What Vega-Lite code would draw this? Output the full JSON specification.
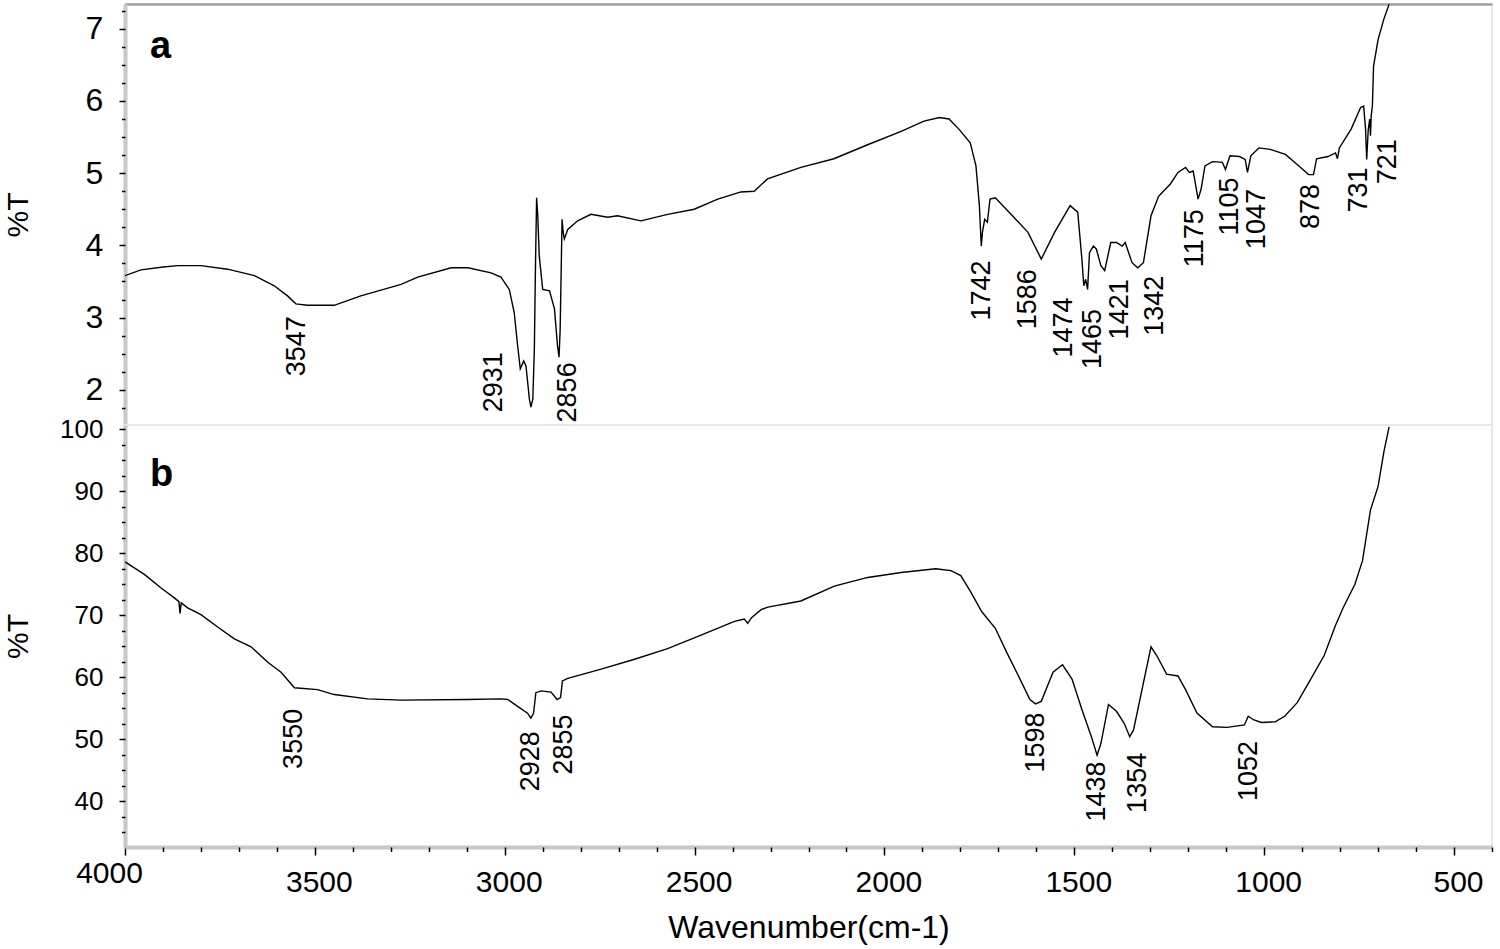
{
  "$schema": "https://vega.github.io/schema/vega-lite/v6.json",
  "padding": {"left": 2, "top": 3, "right": 5, "bottom": 2},
  "background": "white",
  "spacing": 0,
  "bounds": "flush",
  "config": {
    "font": "Liberation Sans",
    "view": {"stroke": "#e8e8e8", "strokeWidth": 2},
    "axis": {"labelColor": "black", "titleColor": "black", "labelFont": "Liberation Sans", "titleFont": "Liberation Sans", "grid": false, "tickColor": "black", "tickWidth": 1.5, "titleFontWeight": "normal", "format": "d", "labelFlush": false}
  },
  "datasets": {
    "a": [
      {"wn": 4000, "T": 3.58}, {"wn": 3958, "T": 3.66}, {"wn": 3900, "T": 3.70}, {"wn": 3861, "T": 3.72}, {"wn": 3800, "T": 3.72},
      {"wn": 3730, "T": 3.67}, {"wn": 3659, "T": 3.58}, {"wn": 3607, "T": 3.44}, {"wn": 3572, "T": 3.30}, {"wn": 3550, "T": 3.19},
      {"wn": 3520, "T": 3.17}, {"wn": 3493, "T": 3.17}, {"wn": 3449, "T": 3.17}, {"wn": 3379, "T": 3.30}, {"wn": 3273, "T": 3.46},
      {"wn": 3229, "T": 3.56}, {"wn": 3141, "T": 3.69}, {"wn": 3097, "T": 3.69}, {"wn": 3036, "T": 3.62}, {"wn": 3010, "T": 3.56},
      {"wn": 2988, "T": 3.39}, {"wn": 2975, "T": 3.07}, {"wn": 2966, "T": 2.61}, {"wn": 2959, "T": 2.29}, {"wn": 2950, "T": 2.40},
      {"wn": 2944, "T": 2.33}, {"wn": 2935, "T": 1.87}, {"wn": 2931, "T": 1.76}, {"wn": 2926, "T": 1.87}, {"wn": 2922, "T": 2.56},
      {"wn": 2919, "T": 3.72}, {"wn": 2916, "T": 4.66}, {"wn": 2913, "T": 4.41}, {"wn": 2909, "T": 3.85}, {"wn": 2900, "T": 3.39},
      {"wn": 2882, "T": 3.37}, {"wn": 2869, "T": 3.12}, {"wn": 2861, "T": 2.61}, {"wn": 2857, "T": 2.45}, {"wn": 2854, "T": 2.84},
      {"wn": 2849, "T": 4.36}, {"wn": 2846, "T": 4.18}, {"wn": 2843, "T": 4.09}, {"wn": 2834, "T": 4.22}, {"wn": 2808, "T": 4.34},
      {"wn": 2773, "T": 4.43}, {"wn": 2729, "T": 4.39}, {"wn": 2703, "T": 4.41}, {"wn": 2641, "T": 4.34}, {"wn": 2571, "T": 4.43},
      {"wn": 2501, "T": 4.50}, {"wn": 2439, "T": 4.64}, {"wn": 2378, "T": 4.74}, {"wn": 2343, "T": 4.75}, {"wn": 2308, "T": 4.92},
      {"wn": 2220, "T": 5.08}, {"wn": 2133, "T": 5.20}, {"wn": 2046, "T": 5.39}, {"wn": 1956, "T": 5.58}, {"wn": 1896, "T": 5.72},
      {"wn": 1855, "T": 5.77}, {"wn": 1830, "T": 5.75}, {"wn": 1804, "T": 5.61}, {"wn": 1774, "T": 5.42}, {"wn": 1759, "T": 5.10},
      {"wn": 1750, "T": 4.55}, {"wn": 1745, "T": 3.99}, {"wn": 1742, "T": 4.18}, {"wn": 1736, "T": 4.36}, {"wn": 1729, "T": 4.32},
      {"wn": 1722, "T": 4.64}, {"wn": 1708, "T": 4.66}, {"wn": 1663, "T": 4.41}, {"wn": 1622, "T": 4.18}, {"wn": 1587, "T": 3.81},
      {"wn": 1552, "T": 4.18}, {"wn": 1511, "T": 4.55}, {"wn": 1491, "T": 4.46}, {"wn": 1480, "T": 3.81}, {"wn": 1475, "T": 3.44},
      {"wn": 1470, "T": 3.53}, {"wn": 1465, "T": 3.39}, {"wn": 1460, "T": 3.90}, {"wn": 1450, "T": 3.99}, {"wn": 1442, "T": 3.95},
      {"wn": 1430, "T": 3.72}, {"wn": 1420, "T": 3.65}, {"wn": 1404, "T": 4.04}, {"wn": 1389, "T": 4.04}, {"wn": 1374, "T": 3.99},
      {"wn": 1366, "T": 4.04}, {"wn": 1348, "T": 3.76}, {"wn": 1333, "T": 3.69}, {"wn": 1318, "T": 3.76}, {"wn": 1298, "T": 4.41},
      {"wn": 1278, "T": 4.68}, {"wn": 1247, "T": 4.85}, {"wn": 1227, "T": 5.01}, {"wn": 1207, "T": 5.08}, {"wn": 1197, "T": 5.01},
      {"wn": 1187, "T": 5.03}, {"wn": 1174, "T": 4.64}, {"wn": 1166, "T": 4.78}, {"wn": 1156, "T": 5.10}, {"wn": 1136, "T": 5.16},
      {"wn": 1110, "T": 5.15}, {"wn": 1102, "T": 5.05}, {"wn": 1090, "T": 5.24}, {"wn": 1065, "T": 5.23}, {"wn": 1050, "T": 5.19},
      {"wn": 1044, "T": 5.01}, {"wn": 1035, "T": 5.24}, {"wn": 1014, "T": 5.35}, {"wn": 984, "T": 5.33}, {"wn": 944, "T": 5.26},
      {"wn": 913, "T": 5.12}, {"wn": 883, "T": 4.98}, {"wn": 870, "T": 4.98}, {"wn": 862, "T": 5.20}, {"wn": 832, "T": 5.23},
      {"wn": 812, "T": 5.28}, {"wn": 807, "T": 5.20}, {"wn": 802, "T": 5.35}, {"wn": 771, "T": 5.61}, {"wn": 746, "T": 5.91},
      {"wn": 738, "T": 5.93}, {"wn": 733, "T": 5.61}, {"wn": 730, "T": 5.19}, {"wn": 726, "T": 5.60}, {"wn": 722, "T": 5.75},
      {"wn": 720, "T": 5.52}, {"wn": 718, "T": 5.80}, {"wn": 715, "T": 5.93}, {"wn": 712, "T": 6.48}, {"wn": 700, "T": 6.85},
      {"wn": 685, "T": 7.13}, {"wn": 671, "T": 7.34}
    ],
    "b": [
      {"wn": 4000, "T": 78.6}, {"wn": 3949, "T": 76.6}, {"wn": 3905, "T": 74.4}, {"wn": 3870, "T": 72.8}, {"wn": 3858, "T": 72.2},
      {"wn": 3855, "T": 70.3}, {"wn": 3852, "T": 72.0}, {"wn": 3835, "T": 71.2}, {"wn": 3800, "T": 70.1}, {"wn": 3756, "T": 68.1},
      {"wn": 3712, "T": 66.2}, {"wn": 3668, "T": 64.9}, {"wn": 3624, "T": 62.4}, {"wn": 3589, "T": 60.8}, {"wn": 3554, "T": 58.3},
      {"wn": 3493, "T": 58.0}, {"wn": 3449, "T": 57.2}, {"wn": 3361, "T": 56.5}, {"wn": 3273, "T": 56.3}, {"wn": 3100, "T": 56.4},
      {"wn": 3010, "T": 56.5}, {"wn": 2992, "T": 56.4}, {"wn": 2966, "T": 55.3}, {"wn": 2940, "T": 54.2}, {"wn": 2931, "T": 53.4},
      {"wn": 2924, "T": 54.2}, {"wn": 2918, "T": 57.5}, {"wn": 2904, "T": 57.8}, {"wn": 2878, "T": 57.6}, {"wn": 2862, "T": 56.4},
      {"wn": 2853, "T": 56.7}, {"wn": 2848, "T": 59.4}, {"wn": 2834, "T": 59.8}, {"wn": 2746, "T": 61.3}, {"wn": 2658, "T": 62.9},
      {"wn": 2571, "T": 64.6}, {"wn": 2483, "T": 66.8}, {"wn": 2395, "T": 69.0}, {"wn": 2369, "T": 69.4}, {"wn": 2360, "T": 68.7},
      {"wn": 2350, "T": 69.6}, {"wn": 2325, "T": 70.9}, {"wn": 2307, "T": 71.3}, {"wn": 2220, "T": 72.3}, {"wn": 2132, "T": 74.7},
      {"wn": 2044, "T": 76.1}, {"wn": 1956, "T": 76.9}, {"wn": 1865, "T": 77.5}, {"wn": 1825, "T": 77.2}, {"wn": 1799, "T": 76.4},
      {"wn": 1774, "T": 73.9}, {"wn": 1744, "T": 70.6}, {"wn": 1708, "T": 67.9}, {"wn": 1678, "T": 64.0}, {"wn": 1643, "T": 59.7},
      {"wn": 1617, "T": 56.4}, {"wn": 1602, "T": 55.7}, {"wn": 1587, "T": 56.1}, {"wn": 1556, "T": 60.8}, {"wn": 1531, "T": 62.0},
      {"wn": 1506, "T": 59.7}, {"wn": 1480, "T": 54.8}, {"wn": 1455, "T": 50.4}, {"wn": 1440, "T": 47.4}, {"wn": 1430, "T": 49.3},
      {"wn": 1410, "T": 55.6}, {"wn": 1389, "T": 54.5}, {"wn": 1369, "T": 52.6}, {"wn": 1354, "T": 50.4}, {"wn": 1344, "T": 51.5},
      {"wn": 1318, "T": 59.1}, {"wn": 1298, "T": 64.9}, {"wn": 1283, "T": 63.5}, {"wn": 1257, "T": 60.5}, {"wn": 1227, "T": 60.2},
      {"wn": 1207, "T": 58.0}, {"wn": 1177, "T": 54.2}, {"wn": 1136, "T": 52.0}, {"wn": 1098, "T": 51.9}, {"wn": 1052, "T": 52.3},
      {"wn": 1042, "T": 53.7}, {"wn": 1027, "T": 53.1}, {"wn": 1007, "T": 52.7}, {"wn": 971, "T": 52.8}, {"wn": 946, "T": 53.7},
      {"wn": 913, "T": 55.9}, {"wn": 883, "T": 59.1}, {"wn": 842, "T": 63.5}, {"wn": 812, "T": 68.4}, {"wn": 792, "T": 71.2},
      {"wn": 761, "T": 75.0}, {"wn": 741, "T": 78.8}, {"wn": 720, "T": 87.0}, {"wn": 700, "T": 90.8}, {"wn": 685, "T": 96.3},
      {"wn": 671, "T": 100.4}
    ],
    "peaks": [
      {"panel": "a", "label": "3547", "lx": 3547, "ly": 3.02},
      {"panel": "a", "label": "2931", "lx": 3028, "ly": 2.52},
      {"panel": "a", "label": "2856", "lx": 2833, "ly": 2.38},
      {"panel": "a", "label": "1742", "lx": 1742, "ly": 3.79},
      {"panel": "a", "label": "1586", "lx": 1622, "ly": 3.67},
      {"panel": "a", "label": "1474", "lx": 1526, "ly": 3.28},
      {"panel": "a", "label": "1465", "lx": 1450, "ly": 3.12},
      {"panel": "a", "label": "1421", "lx": 1379, "ly": 3.53},
      {"panel": "a", "label": "1342", "lx": 1288, "ly": 3.58},
      {"panel": "a", "label": "1175", "lx": 1181, "ly": 4.50},
      {"panel": "a", "label": "1105", "lx": 1091, "ly": 4.94},
      {"panel": "a", "label": "1047", "lx": 1020, "ly": 4.78},
      {"panel": "a", "label": "878", "lx": 877, "ly": 4.85},
      {"panel": "a", "label": "731", "lx": 750, "ly": 5.08},
      {"panel": "a", "label": "721", "lx": 674, "ly": 5.47},
      {"panel": "b", "label": "3550", "lx": 3554, "ly": 54.9},
      {"panel": "b", "label": "2928", "lx": 2931, "ly": 51.3},
      {"panel": "b", "label": "2855", "lx": 2845, "ly": 54.0},
      {"panel": "b", "label": "1598", "lx": 1602, "ly": 54.3},
      {"panel": "b", "label": "1438", "lx": 1440, "ly": 46.4},
      {"panel": "b", "label": "1354", "lx": 1333, "ly": 47.8},
      {"panel": "b", "label": "1052", "lx": 1040, "ly": 49.7}
    ],
    "letters": [
      {"panel": "a", "label": "a", "x": 3934, "y": 6.60},
      {"panel": "b", "label": "b", "x": 3934, "y": 90.8}
    ]
  },
  "vconcat": [
    {
      "width": 1367,
      "height": 421,
      "resolve": {"axis": {"x": "independent", "y": "independent"}},
      "layer": [
        {
          "data": {"name": "letters"},
          "transform": [{"filter": "datum.panel == 'a'"}],
          "mark": {"type": "text", "fontSize": 38, "fontWeight": "bold", "align": "left", "baseline": "alphabetic", "color": "black"},
          "encoding": {
            "x": {"field": "x", "type": "quantitative", "scale": {"domain": [4000, 400], "nice": false, "zero": false},
                  "axis": {"orient": "top", "title": null, "labels": false, "ticks": false, "domain": true, "domainColor": "#a3a3a3", "domainWidth": 2.5, "zindex": 0}},
            "y": {"field": "y", "type": "quantitative", "scale": {"domain": [1.512, 7.343], "nice": false, "zero": false},
                  "axis": {"orient": "left", "title": null, "labels": false, "ticks": false, "domain": true, "domainColor": "#c8c8c8", "domainWidth": 4, "zindex": 0}},
            "text": {"field": "label"}
          }
        },
        {
          "data": {"name": "a"},
          "mark": {"type": "line", "color": "black", "strokeWidth": 1.4, "clip": true},
          "encoding": {
            "x": {"field": "wn", "type": "quantitative", "scale": {"domain": [4000, 400], "nice": false, "zero": false}, "axis": null},
            "y": {"field": "T", "type": "quantitative", "scale": {"domain": [1.512, 7.343], "nice": false, "zero": false},
                  "axis": {"orient": "left", "title": "%T", "values": [2, 3, 4, 5, 6, 7], "tickSize": 6, "labelFontSize": 32, "labelAlign": "left", "labelPadding": 34, "domain": false, "minExtent": 60, "maxExtent": 60, "titleFontSize": 30, "titlePadding": 32, "zindex": 1}}
          }
        },
        {
          "data": {"name": "peaks"},
          "transform": [{"filter": "datum.panel == 'a'"}],
          "mark": {"type": "text", "angle": 270, "align": "right", "baseline": "middle", "fontSize": 27, "font": "Liberation Sans", "color": "black"},
          "encoding": {
            "x": {"field": "lx", "type": "quantitative", "scale": {"domain": [4000, 400], "nice": false, "zero": false}, "axis": null},
            "y": {"field": "ly", "type": "quantitative", "scale": {"domain": [1.512, 7.343], "nice": false, "zero": false},
                  "axis": {"orient": "left", "title": null, "labels": false, "domain": false, "values": [1.75, 2.25, 2.5, 2.75, 3.25, 3.5, 3.75, 4.25, 4.5, 4.75, 5.25, 5.5, 5.75, 6.25, 6.5, 6.75, 7.25], "tickSize": 3.5, "zindex": 1}},
            "text": {"field": "label"}
          }
        }
      ]
    },
    {
      "width": 1367,
      "height": 422,
      "resolve": {"axis": {"x": "independent", "y": "independent"}},
      "layer": [
        {
          "data": {"name": "letters"},
          "transform": [{"filter": "datum.panel == 'b'"}],
          "mark": {"type": "text", "fontSize": 38, "fontWeight": "bold", "align": "left", "baseline": "alphabetic", "color": "black"},
          "encoding": {
            "x": {"field": "x", "type": "quantitative", "scale": {"domain": [4000, 400], "nice": false, "zero": false},
                  "axis": {"orient": "bottom", "title": null, "values": [4000], "tickSize": 8, "labelFontSize": 30, "labelPadding": 3, "labelOffset": -16, "labelFlush": false, "domain": true, "domainColor": "#c8c8c8", "domainWidth": 4, "minExtent": 40, "maxExtent": 40, "zindex": 0}},
            "y": {"field": "y", "type": "quantitative", "scale": {"domain": [32.6, 100.7], "nice": false, "zero": false},
                  "axis": {"orient": "left", "title": null, "labels": false, "ticks": false, "domain": true, "domainColor": "#c8c8c8", "domainWidth": 4, "zindex": 0}},
            "text": {"field": "label"}
          }
        },
        {
          "data": {"name": "b"},
          "mark": {"type": "line", "color": "black", "strokeWidth": 1.4, "clip": true},
          "encoding": {
            "x": {"field": "wn", "type": "quantitative", "scale": {"domain": [4000, 400], "nice": false, "zero": false},
                  "axis": {"orient": "bottom", "title": "Wavenumber(cm-1)", "values": [3500, 3000, 2500, 2000, 1500, 1000, 500], "tickSize": 8, "labelFontSize": 30, "labelPadding": 12, "labelOffset": 4, "domain": false, "minExtent": 40, "maxExtent": 40, "titleFontSize": 32, "titlePadding": 25, "zindex": 1}},
            "y": {"field": "T", "type": "quantitative", "scale": {"domain": [32.6, 100.7], "nice": false, "zero": false},
                  "axis": {"orient": "left", "title": "%T", "values": [40, 50, 60, 70, 80, 90, 100], "tickSize": 6, "labelFontSize": 26, "labelPadding": 16, "domain": false, "minExtent": 60, "maxExtent": 60, "titleFontSize": 30, "titlePadding": 32, "zindex": 1}}
          }
        },
        {
          "data": {"name": "peaks"},
          "transform": [{"filter": "datum.panel == 'b'"}],
          "mark": {"type": "text", "angle": 270, "align": "right", "baseline": "middle", "fontSize": 27, "font": "Liberation Sans", "color": "black"},
          "encoding": {
            "x": {"field": "lx", "type": "quantitative", "scale": {"domain": [4000, 400], "nice": false, "zero": false},
                  "axis": {"orient": "bottom", "title": null, "labels": false, "domain": false, "values": [400, 600, 700, 800, 900, 1100, 1200, 1300, 1400, 1600, 1700, 1800, 1900, 2100, 2200, 2300, 2400, 2600, 2700, 2800, 2900, 3100, 3200, 3300, 3400, 3600, 3700, 3800, 3900], "tickSize": 4.5, "zindex": 1}},
            "y": {"field": "ly", "type": "quantitative", "scale": {"domain": [32.6, 100.7], "nice": false, "zero": false},
                  "axis": {"orient": "left", "title": null, "labels": false, "domain": false, "values": [35, 37.5, 42.5, 45, 47.5, 52.5, 55, 57.5, 62.5, 65, 67.5, 72.5, 75, 77.5, 82.5, 85, 87.5, 92.5, 95, 97.5], "tickSize": 3.5, "zindex": 1}},
            "text": {"field": "label"}
          }
        }
      ]
    }
  ]
}
